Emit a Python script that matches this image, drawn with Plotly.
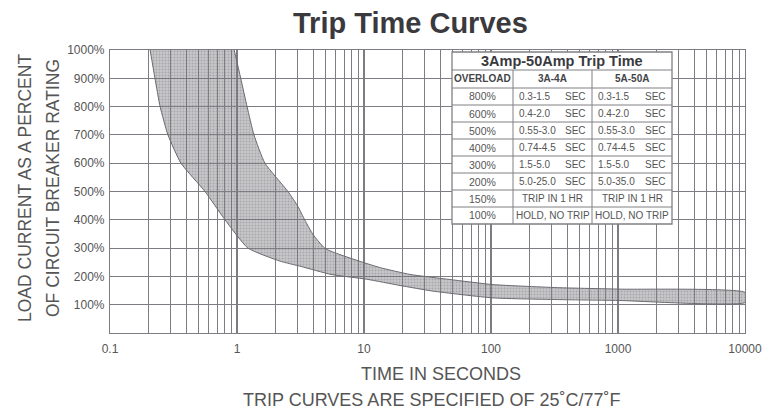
import plotly.graph_objects as go

# ---------------- data ----------------
# lower / left boundary of the band (minimum trip time, seconds vs. % load)
lower_time = [0.207, 0.226, 0.248, 0.286, 0.362, 0.56, 0.805, 1.22, 2.18, 3.2, 5.5, 10.5, 19.2, 34.9, 104, 349, 1000, 10000]
lower_pct = [1000, 900, 800, 700, 600, 500, 400, 300, 254, 235, 207, 190, 168, 148, 124, 118, 115, 108]
# upper / right boundary of the band (maximum trip time)
upper_time = [0.95, 1.07, 1.2, 1.36, 1.66, 2.52, 3.02, 3.43, 3.97, 4.93, 6.47, 9.31, 13.4, 23.0, 47.5, 104, 349, 1037, 10000]
upper_pct = [1000, 900, 800, 700, 600, 500, 447, 398, 348, 299, 277, 253, 231, 207, 189, 171, 160, 155, 143]

x_tick_vals = [0.1, 1, 10, 100, 1000, 10000]
x_tick_labels = ["0.1", "1", "10", "100", "1000", "10000"]
y_tick_vals = [100, 200, 300, 400, 500, 600, 700, 800, 900, 1000]
y_tick_labels = ["100%", "200%", "300%", "400%", "500%", "600%", "700%", "800%", "900%", "1000%"]

table_title = "3Amp-50Amp Trip Time"
table_header = ["OVERLOAD", "3A-4A", "5A-50A"]
overload = ["800%", "600%", "500%", "400%", "300%", "200%", "150%", "100%"]
range_3a4a = ["0.3-1.5", "0.4-2.0", "0.55-3.0", "0.74-4.5", "1.5-5.0", "5.0-25.0", "TRIP IN 1 HR", "HOLD, NO TRIP"]
range_5a50a = ["0.3-1.5", "0.4-2.0", "0.55-3.0", "0.74-4.5", "1.5-5.0", "5.0-35.0", "TRIP IN 1 HR", "HOLD, NO TRIP"]
unit = ["SEC", "SEC", "SEC", "SEC", "SEC", "SEC", "", ""]

# ---------------- styling ----------------
FONT = "Liberation Sans, Arial, sans-serif"
GRID = "#7c7c82"
TXT = "#555555"

# page body has an 8px margin, so the figure is drawn 8px smaller
OFF = 8
W, H = 782 - OFF, 413 - OFF
L, R, T, B = 110, 745, 50, 333   # plot-area edges in page pixels


def px(x):
    return (x - L) / (R - L)


def py(y):
    return (B - y) / (B - T)


fig = go.Figure()

band_x = upper_time + lower_time[::-1]
band_y = upper_pct + lower_pct[::-1]
fig.add_trace(go.Scatter(
    x=band_x, y=band_y, mode="lines", fill="toself",
    line=dict(color="#6a6a70", width=1, shape="spline", smoothing=0.5),
    fillcolor="rgba(120,120,126,0.5)",
    fillpattern=dict(shape=".", size=3, solidity=0.35,
                     fgcolor="rgba(70,70,76,0.5)", bgcolor="rgba(130,130,136,0.45)"),
    hoverinfo="skip",
))

fig.update_xaxes(
    type="log", range=[-1, 4],
    tickmode="array", tickvals=x_tick_vals, ticktext=x_tick_labels,
    showgrid=True, gridcolor=GRID, gridwidth=1.6,
    minor=dict(showgrid=True, gridcolor=GRID, gridwidth=1, dtick="D1"),
    showline=True, mirror=True, linecolor=GRID, linewidth=1.2,
    ticks="", tickfont=dict(family=FONT, size=12, color=TXT),
    ticklabelstandoff=4, zeroline=False,
)
fig.update_yaxes(
    range=[0, 1000], tickmode="array", tickvals=y_tick_vals, ticktext=y_tick_labels,
    showgrid=True, gridcolor=GRID, gridwidth=1.2,
    showline=True, mirror=True, linecolor=GRID, linewidth=1.2,
    ticks="", tickfont=dict(family=FONT, size=12, color=TXT),
    ticklabelstandoff=2, zeroline=False,
)

annotations = []


def note(text, x, y, size, color=TXT, xanchor="center", angle=0, family=FONT):
    annotations.append(dict(text=text, x=px(x), y=py(y), xref="paper", yref="paper",
                            showarrow=False, xanchor=xanchor, yanchor="middle", textangle=angle,
                            font=dict(family=family, size=size, color=color)))


note("<b>Trip Time Curves</b>", 410, 23, 29, color="#3a3a3e")
note("LOAD CURRENT AS A PERCENT", 25, 188, 17.5, angle=-90)
note("OF CIRCUIT BREAKER RATING", 53, 188, 17.5, angle=-90)
note("TIME IN SECONDS", 441, 374, 18)
note("TRIP CURVES ARE SPECIFIED OF 25˚C/77˚F", 431, 400, 18)

# ---------------- table ----------------
cols = [452, 513, 592, 672]
rows = [52, 70, 88] + [88 + 17 * (i + 1) for i in range(len(overload))]
shapes = []
TBL = "#808085"
shapes.append(dict(type="rect", xref="paper", yref="paper", x0=px(cols[0]), x1=px(cols[-1]),
                   y0=py(rows[0]), y1=py(rows[-1]), fillcolor="white", line=dict(color=TBL, width=1.3),
                   layer="above"))
for yy in rows[1:-1]:
    shapes.append(dict(type="line", xref="paper", yref="paper", x0=px(cols[0]), x1=px(cols[-1]),
                       y0=py(yy), y1=py(yy), line=dict(color=TBL, width=1), layer="above"))
for xx in cols[1:-1]:
    shapes.append(dict(type="line", xref="paper", yref="paper", x0=px(xx), x1=px(xx),
                       y0=py(rows[1]), y1=py(rows[-1]), line=dict(color=TBL, width=1), layer="above"))

note("<b>" + table_title + "</b>", (cols[0] + cols[-1]) / 2, (rows[0] + rows[1]) / 2, 14.5, color="#3a3a3e")
for j, h in enumerate(table_header):
    note("<b>" + h + "</b>", (cols[j] + cols[j + 1]) / 2, (rows[1] + rows[2]) / 2, 10, color="#444448")
for i in range(len(overload)):
    yc = (rows[i + 2] + rows[i + 3]) / 2
    note(overload[i], (cols[0] + cols[1]) / 2, yc, 10.5)
    for j, col in enumerate([range_3a4a, range_5a50a]):
        c0, c1 = cols[j + 1], cols[j + 2]
        if unit[i]:
            note(col[i], c0 + 4, yc, 10, xanchor="left")
            note(unit[i], c1 - 4, yc, 10, xanchor="right")
        else:
            note(col[i], (c0 + c1) / 2, yc, 10)

fig.update_layout(
    width=W, height=H,
    margin=dict(l=L - OFF, r=(W + OFF) - R, t=T - OFF, b=(H + OFF) - B),
    plot_bgcolor="white", paper_bgcolor="white",
    showlegend=False, annotations=annotations, shapes=shapes,
)

fig.write_html("out.html")
